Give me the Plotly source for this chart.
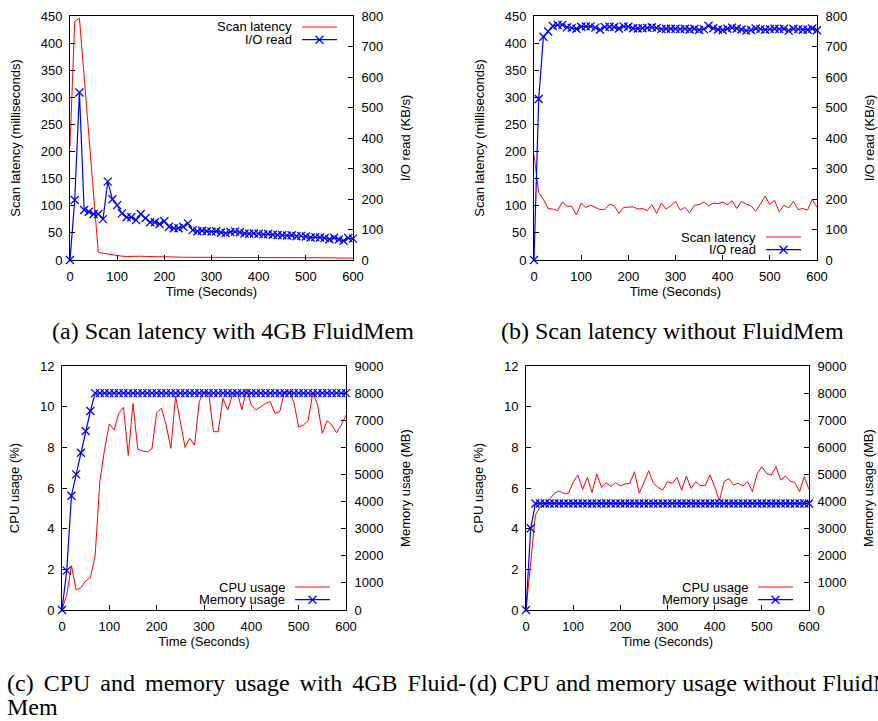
import plotly.graph_objects as go

W, H = 878, 721

time_s = list(range(0, 601, 10))

# (a) with 4GB FluidMem
lat_a = [210, 440, 446, 340, 230, 125, 14, 12.5, 11, 9,
         7.5, 7, 6.5, 7, 7.5, 7, 6.5, 6, 6, 6,
         6, 5.5, 5, 5, 5, 5, 5, 5, 5, 5,
         5, 5, 4.5, 4.5, 4.5, 4.5, 4.5, 4.5, 4.5, 4.5,
         4.5, 4.5, 4.5, 4.5, 4.5, 4.5, 4.5, 4, 4, 4.5,
         4.5, 4, 4, 4, 4, 4, 4, 3.5, 3.5, 3.5,
         3.5]
io_a = [0, 197, 549, 164, 158, 151, 151, 134, 257, 199,
        180, 153, 140, 140, 131, 151, 137, 124, 124, 118,
        127, 109, 104, 104, 109, 120, 98, 94, 96, 94,
        93, 94, 90, 88, 92, 93, 91, 87, 86, 87,
        86, 84, 85, 83, 82, 81, 80, 81, 78, 79,
        77, 74, 75, 74, 72, 68, 73, 67, 63, 72,
        70]

# (b) without FluidMem
lat_b = [194, 124, 112, 95, 94, 91, 107, 99, 99, 83,
         105, 97, 101, 97, 93, 93, 103, 100, 86, 97,
         98, 98, 94, 95, 91, 102, 86, 105, 94, 100,
         108, 92, 97, 87, 101, 102, 107, 100, 105, 104,
         107, 102, 109, 95, 108, 103, 100, 90, 103, 118,
         102, 110, 89, 101, 96, 108, 93, 95, 92, 112,
         97]
io_b = [0, 528, 732, 749, 767, 771, 771, 763, 761, 758,
        765, 766, 766, 762, 755, 764, 765, 764, 759, 766,
        765, 760, 759, 760, 761, 763, 761, 757, 758, 758,
        758, 757, 758, 756, 758, 754, 757, 768, 760, 756,
        754, 758, 762, 759, 756, 752, 754, 759, 757, 755,
        757, 758, 757, 758, 752, 758, 757, 755, 755, 759,
        753]

# (c) CPU / memory with 4GB FluidMem
cpu_c = [0, 0.74, 2.18, 0.98, 1.1, 1.43, 1.59, 2.67, 6.34, 7.9,
         9.15, 8.85, 9.67, 9.97, 7.6, 10.16, 7.92, 7.82, 7.77, 7.92,
         9.7, 9.92, 9.1, 7.95, 10.52, 9.31, 8.0, 8.44, 8.1, 10.25,
         10.74, 10.66, 8.77, 8.77, 10.41, 9.84, 10.57, 10.74, 9.84, 10.85,
         10.08, 9.84, 10.0, 10.16, 10.25, 9.67, 9.75, 10.74, 10.77, 10.2,
         9.0, 9.1, 9.31, 10.69, 10.08, 8.69, 9.31, 9.1, 8.72, 9.1,
         9.59]
mem_c = [0, 1451, 4217, 5004, 5803, 6602, 7340, 8000, 8000, 8000,
         8000, 8000, 8000, 8000, 8000, 8000, 8000, 8000, 8000, 8000,
         8000, 8000, 8000, 8000, 8000, 8000, 8000, 8000, 8000, 8000,
         8000, 8000, 8000, 8000, 8000, 8000, 8000, 8000, 8000, 8000,
         8000, 8000, 8000, 8000, 8000, 8000, 8000, 8000, 8000, 8000,
         8000, 8000, 8000, 8000, 8000, 8000, 8000, 8000, 8000, 8000,
         8000]

# (d) CPU / memory without FluidMem
cpu_d = [0, 2.21, 4.67, 5.08, 5.16, 5.44, 5.74, 5.85, 5.74, 5.74,
         6.28, 6.64, 5.93, 6.52, 5.77, 6.69, 6.03, 6.26, 6.07, 6.26,
         6.1, 6.2, 6.23, 6.8, 5.74, 6.26, 6.85, 6.23, 6.03, 5.9,
         6.31, 6.23, 6.52, 5.9, 6.59, 5.98, 6.3, 6.12, 6.12, 6.64,
         6.07, 5.38, 6.31, 6.46, 6.15, 6.23, 6.1, 6.31, 5.82, 6.69,
         7.05, 6.72, 6.64, 7.05, 6.39, 6.59, 6.34, 6.26, 5.82, 6.56,
         5.93]
mem_d = [0, 3013, 3930, 3930, 3930, 3930, 3930, 3930, 3930, 3930,
         3930, 3930, 3930, 3930, 3930, 3930, 3930, 3930, 3930, 3930,
         3930, 3930, 3930, 3930, 3930, 3930, 3930, 3930, 3930, 3930,
         3930, 3930, 3930, 3930, 3930, 3930, 3930, 3930, 3930, 3930,
         3930, 3930, 3930, 3930, 3930, 3930, 3930, 3930, 3930, 3930,
         3930, 3930, 3930, 3930, 3930, 3930, 3930, 3930, 3930, 3930,
         3930]

x_ticks = [0, 100, 200, 300, 400, 500, 600]
lat_ticks = [0, 50, 100, 150, 200, 250, 300, 350, 400, 450]
io_ticks = [0, 100, 200, 300, 400, 500, 600, 700, 800]
cpu_ticks = [0, 2, 4, 6, 8, 10, 12]
mem_ticks = [0, 1000, 2000, 3000, 4000, 5000, 6000, 7000, 8000, 9000]

GAP = "\u00a0\u2006"
captions = ["(a) Scan latency with 4GB FluidMem",
            "(b) Scan latency without FluidMem",
            GAP.join(["(c)", "CPU", "and", "memory", "usage", "with", "4GB", "Fluid-"]),
            "Mem",
            "(d) CPU and memory usage without FluidMem"]

SANS = "Liberation Sans, Arial, sans-serif"
SERIF = "Liberation Serif, Times New Roman, serif"
RED = "#ff0000"
BLUE = "#0000ff"
FS = 13


def px(x):
    return x / W


def py(y):
    return 1 - y / H


# panel geometry in pixels: (left, right, top, bottom)
panels = [
    dict(box=(70, 353, 16, 260), lt=lat_ticks, lr=[0, 450], rt=io_ticks, rr=[0, 800],
         ltitle="Scan latency (milliseconds)", rtitle="I/O read (KB/s)",
         y1=lat_a, y2=io_a, n1="Scan latency", n2="I/O read",
         leg=(293, 27)),
    dict(box=(534, 817, 16, 260), lt=lat_ticks, lr=[0, 450], rt=io_ticks, rr=[0, 800],
         ltitle="Scan latency (milliseconds)", rtitle="I/O read (KB/s)",
         y1=lat_b, y2=io_b, n1="Scan latency", n2="I/O read",
         leg=(757, 237)),
    dict(box=(62, 346, 366, 610), lt=cpu_ticks, lr=[0, 12], rt=mem_ticks, rr=[0, 9000],
         ltitle="CPU usage (%)", rtitle="Memory usage (MB)",
         y1=cpu_c, y2=mem_c, n1="CPU usage", n2="Memory usage",
         leg=(286, 587)),
    dict(box=(526, 809, 366, 610), lt=cpu_ticks, lr=[0, 12], rt=mem_ticks, rr=[0, 9000],
         ltitle="CPU usage (%)", rtitle="Memory usage (MB)",
         y1=cpu_d, y2=mem_d, n1="CPU usage", n2="Memory usage",
         leg=(749, 587)),
]

fig = go.Figure()
layout = dict(width=W, height=H, autosize=False,
              margin=dict(l=0, r=0, t=0, b=0, pad=0, autoexpand=False),
              paper_bgcolor="white", plot_bgcolor="white",
              showlegend=False, font=dict(family=SANS, size=FS, color="black"))
shapes = []
annotations = []

axis_common = dict(showgrid=False, zeroline=False, showline=True, linecolor="black",
                   linewidth=1, ticks="inside", ticklen=5, tickwidth=1, tickcolor="black",
                   automargin=False,
                   tickfont=dict(family=SANS, size=FS, color="black"))

for i, p in enumerate(panels):
    l, r, t, b = p["box"]
    xn = "x" if i == 0 else f"x{i + 1}"
    ya = 2 * i + 1
    yb = 2 * i + 2
    yn1 = "y" if ya == 1 else f"y{ya}"
    yn2 = f"y{yb}"
    xkey = "xaxis" if i == 0 else f"xaxis{i + 1}"
    ykey1 = "yaxis" if ya == 1 else f"yaxis{ya}"
    ykey2 = f"yaxis{yb}"

    layout[xkey] = dict(axis_common, domain=[px(l), px(r)], anchor=yn1, range=[0, 600],
                        tickvals=x_ticks, mirror=True, ticklabelstandoff=4,
                        title=dict(text="Time (Seconds)", standoff=4,
                                   font=dict(family=SANS, size=FS)))
    layout[ykey1] = dict(axis_common, domain=[py(b), py(t)], anchor=xn, range=p["lr"],
                         tickvals=p["lt"], side="left", ticklabelstandoff=4,
                         title=dict(text=p["ltitle"], standoff=17,
                                    font=dict(family=SANS, size=FS)))
    layout[ykey2] = dict(axis_common, overlaying=yn1, anchor=xn, range=p["rr"],
                         tickvals=p["rt"], side="right", ticklabelstandoff=5,
                         title=dict(text=p["rtitle"], standoff=18,
                                    font=dict(family=SANS, size=FS)))

    fig.add_trace(go.Scatter(x=time_s, y=p["y1"], name=p["n1"], mode="lines",
                             line=dict(color=RED, width=1), xaxis=xn, yaxis=yn1,
                             cliponaxis=False))
    fig.add_trace(go.Scatter(x=time_s, y=p["y2"], name=p["n2"], mode="lines+markers",
                             line=dict(color=BLUE, width=1.2),
                             marker=dict(symbol="x-thin", size=8,
                                         line=dict(width=1.3, color=BLUE)),
                             xaxis=xn, yaxis=yn2, cliponaxis=False))

    # gnuplot-style key: text on the left, sample on the right
    tx, ty = p["leg"]
    for k, (name, color, mk) in enumerate([(p["n1"], RED, False), (p["n2"], BLUE, True)]):
        yy = ty + k * 12.7
        annotations.append(dict(text=name, x=px(tx), y=py(yy), xref="paper", yref="paper",
                                xanchor="right", yanchor="middle", showarrow=False,
                                borderpad=0,
                                font=dict(family=SANS, size=FS, color="black")))
        x0, x1 = tx + 9, tx + 44
        shapes.append(dict(type="line", xref="paper", yref="paper", x0=px(x0), x1=px(x1),
                           y0=py(yy), y1=py(yy), line=dict(color=color, width=1.2)))
        if mk:
            cx = (x0 + x1) / 2
            for s in (-1, 1):
                shapes.append(dict(type="line", xref="paper", yref="paper",
                                   x0=px(cx - 4), x1=px(cx + 4),
                                   y0=py(yy - 4 * s), y1=py(yy + 4 * s),
                                   line=dict(color=color, width=1.3)))

# sub-figure captions
cap_font = dict(family=SERIF, size=24, color="black")
annotations.append(dict(text=captions[0], x=px(233), y=py(331), xref="paper", yref="paper",
                        xanchor="center", yanchor="middle", showarrow=False, font=cap_font))
annotations.append(dict(text=captions[1], x=px(672), y=py(331), xref="paper", yref="paper",
                        xanchor="center", yanchor="middle", showarrow=False, font=cap_font))
annotations.append(dict(text=captions[2], x=px(5), y=py(683), xref="paper", yref="paper",
                        xanchor="left", yanchor="middle", showarrow=False, font=cap_font))
annotations.append(dict(text=captions[3], x=px(5), y=py(707), xref="paper", yref="paper",
                        xanchor="left", yanchor="middle", showarrow=False, font=cap_font))
annotations.append(dict(text=captions[4], x=px(467), y=py(683), xref="paper", yref="paper",
                        xanchor="left", yanchor="middle", showarrow=False, font=cap_font))

layout["shapes"] = shapes
layout["annotations"] = annotations
fig.update_layout(**layout)

fig.write_html("out.html", config={"displayModeBar": False},
               post_script="document.body.style.margin='0';document.body.style.overflow='hidden';")
